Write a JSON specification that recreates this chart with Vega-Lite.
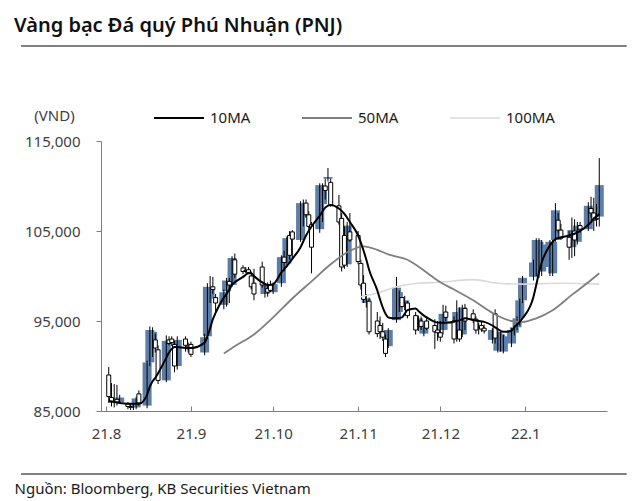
{
"$schema": "https://vega.github.io/schema/vega-lite/v6.json",
"width": 506, "height": 270,
"autosize": {"type": "none"},
"padding": {"left": 101, "top": 141, "right": 33, "bottom": 90},
"background": "white",
"title": {"text": "Vàng bạc Đá quý Phú Nhuận (PNJ)", "anchor": "start", "frame": "group", "dx": -87, "offset": 9, "fontSize": 20, "fontWeight": 600, "font": "Noto Sans", "color": "#111111"},
"datasets": {
"candles": [
{"date":"2021-08-02","open":89000,"high":89900,"low":85900,"close":86600},
{"date":"2021-08-03","open":86500,"high":88100,"low":85500,"close":86000},
{"date":"2021-08-04","open":86000,"high":88000,"low":85400,"close":86200},
{"date":"2021-08-05","open":86300,"high":87900,"low":85600,"close":86000},
{"date":"2021-08-06","open":86000,"high":86800,"low":85800,"close":86500},
{"date":"2021-08-09","open":85800,"high":86000,"low":85200,"close":85500},
{"date":"2021-08-10","open":85500,"high":85800,"low":85100,"close":85400},
{"date":"2021-08-11","open":85400,"high":85800,"low":85100,"close":85500},
{"date":"2021-08-12","open":85400,"high":86600,"low":85200,"close":86400},
{"date":"2021-08-13","open":86900,"high":87300,"low":85600,"close":85900},
{"date":"2021-08-16","open":85600,"high":90600,"low":85300,"close":90400},
{"date":"2021-08-17","open":90400,"high":94400,"low":90000,"close":94000},
{"date":"2021-08-18","open":92000,"high":94300,"low":91000,"close":93800},
{"date":"2021-08-19","open":92900,"high":93600,"low":91500,"close":92000},
{"date":"2021-08-20","open":91800,"high":92300,"low":88000,"close":88400},
{"date":"2021-08-23","open":88400,"high":93400,"low":88200,"close":92800},
{"date":"2021-08-24","open":92900,"high":93300,"low":92300,"close":92500},
{"date":"2021-08-25","open":93000,"high":93300,"low":92200,"close":92600},
{"date":"2021-08-26","open":92400,"high":92800,"low":89300,"close":90000},
{"date":"2021-08-27","open":90000,"high":93300,"low":89600,"close":92900},
{"date":"2021-08-30","open":93000,"high":93300,"low":91600,"close":92300},
{"date":"2021-08-31","open":92200,"high":92600,"low":91500,"close":91900},
{"date":"2021-09-01","open":92400,"high":92700,"low":91000,"close":91300},
{"date":"2021-09-06","open":91500,"high":93600,"low":91200,"close":93200},
{"date":"2021-09-07","open":93300,"high":99200,"low":93000,"close":98800},
{"date":"2021-09-08","open":97500,"high":100000,"low":97000,"close":98700},
{"date":"2021-09-09","open":98800,"high":99900,"low":98000,"close":98500},
{"date":"2021-09-10","open":97600,"high":98000,"low":96000,"close":97000},
{"date":"2021-09-13","open":96800,"high":98500,"low":96300,"close":98200},
{"date":"2021-09-14","open":98300,"high":99800,"low":96600,"close":99500},
{"date":"2021-09-15","open":99400,"high":99800,"low":97000,"close":99000},
{"date":"2021-09-16","open":99000,"high":102200,"low":98800,"close":102000},
{"date":"2021-09-17","open":101800,"high":102500,"low":99800,"close":100200},
{"date":"2021-09-20","open":100900,"high":101200,"low":100200,"close":100500},
{"date":"2021-09-21","open":100600,"high":101000,"low":100300,"close":100500},
{"date":"2021-09-22","open":100700,"high":101000,"low":100300,"close":100400},
{"date":"2021-09-23","open":100000,"high":100500,"low":98500,"close":98800},
{"date":"2021-09-24","open":99200,"high":100800,"low":97300,"close":98000},
{"date":"2021-09-27","open":101000,"high":101600,"low":98700,"close":99000},
{"date":"2021-09-28","open":98000,"high":99200,"low":97600,"close":99000},
{"date":"2021-09-29","open":98600,"high":99300,"low":97700,"close":98200},
{"date":"2021-09-30","open":99000,"high":99500,"low":98200,"close":98400},
{"date":"2021-10-01","open":98200,"high":99300,"low":98000,"close":99100},
{"date":"2021-10-04","open":99200,"high":102300,"low":98800,"close":102100},
{"date":"2021-10-05","open":102100,"high":102800,"low":100500,"close":101500},
{"date":"2021-10-06","open":101400,"high":104400,"low":101000,"close":104200},
{"date":"2021-10-07","open":104500,"high":105000,"low":101800,"close":102300},
{"date":"2021-10-08","open":104900,"high":105100,"low":101800,"close":104100},
{"date":"2021-10-11","open":104000,"high":108300,"low":103800,"close":108100},
{"date":"2021-10-12","open":106500,"high":108500,"low":105500,"close":108000},
{"date":"2021-10-13","open":108100,"high":108500,"low":106500,"close":106800},
{"date":"2021-10-14","open":106800,"high":107200,"low":105000,"close":105500},
{"date":"2021-10-15","open":105700,"high":106000,"low":100300,"close":103200},
{"date":"2021-10-18","open":105200,"high":110300,"low":104800,"close":110100},
{"date":"2021-10-19","open":108000,"high":110300,"low":106000,"close":110000},
{"date":"2021-10-20","open":110000,"high":110800,"low":108500,"close":109500},
{"date":"2021-10-21","open":110800,"high":112000,"low":110500,"close":111000},
{"date":"2021-10-22","open":110400,"high":110800,"low":107700,"close":107900},
{"date":"2021-10-25","open":107800,"high":109000,"low":105700,"close":106000},
{"date":"2021-10-26","open":106400,"high":107000,"low":100500,"close":101000},
{"date":"2021-10-27","open":104500,"high":105500,"low":100800,"close":101200},
{"date":"2021-10-28","open":101300,"high":106000,"low":101000,"close":105600},
{"date":"2021-10-29","open":104900,"high":107000,"low":103800,"close":104000},
{"date":"2021-11-01","open":104500,"high":105000,"low":101300,"close":101600},
{"date":"2021-11-02","open":101400,"high":101800,"low":98500,"close":99000},
{"date":"2021-11-03","open":99200,"high":100100,"low":97000,"close":97400},
{"date":"2021-11-04","open":97000,"high":98000,"low":96500,"close":97500},
{"date":"2021-11-05","open":97200,"high":97600,"low":93500,"close":93800},
{"date":"2021-11-08","open":95000,"high":96000,"low":93200,"close":93600},
{"date":"2021-11-09","open":94500,"high":95500,"low":93000,"close":93800},
{"date":"2021-11-10","open":93800,"high":94800,"low":92800,"close":93200},
{"date":"2021-11-11","open":93000,"high":93500,"low":91000,"close":91400},
{"date":"2021-11-12","open":92200,"high":94200,"low":92000,"close":94000},
{"date":"2021-11-15","open":95100,"high":99900,"low":94800,"close":98700},
{"date":"2021-11-16","open":96800,"high":98400,"low":96000,"close":97500},
{"date":"2021-11-17","open":97600,"high":98200,"low":96000,"close":96600},
{"date":"2021-11-18","open":96800,"high":97800,"low":96200,"close":97300},
{"date":"2021-11-19","open":97000,"high":97200,"low":95300,"close":95600},
{"date":"2021-11-22","open":95600,"high":96000,"low":93500,"close":94000},
{"date":"2021-11-23","open":94200,"high":95600,"low":93900,"close":95300},
{"date":"2021-11-24","open":95000,"high":95500,"low":94000,"close":94400},
{"date":"2021-11-25","open":93600,"high":94600,"low":93300,"close":94300},
{"date":"2021-11-26","open":95000,"high":95500,"low":94000,"close":94200},
{"date":"2021-11-29","open":94500,"high":95200,"low":91900,"close":93800},
{"date":"2021-11-30","open":94000,"high":95000,"low":92800,"close":93700},
{"date":"2021-12-01","open":93700,"high":95000,"low":92700,"close":93200},
{"date":"2021-12-02","open":94000,"high":96800,"low":93500,"close":95800},
{"date":"2021-12-03","open":96000,"high":96700,"low":95000,"close":95400},
{"date":"2021-12-06","open":95000,"high":95500,"low":92500,"close":93000},
{"date":"2021-12-07","open":93200,"high":97300,"low":92700,"close":96000},
{"date":"2021-12-08","open":94000,"high":96500,"low":92700,"close":93000},
{"date":"2021-12-09","open":93500,"high":96800,"low":93200,"close":96500},
{"date":"2021-12-10","open":96400,"high":96900,"low":94000,"close":95000},
{"date":"2021-12-13","open":95800,"high":96300,"low":94800,"close":95200},
{"date":"2021-12-14","open":95200,"high":95500,"low":93600,"close":94000},
{"date":"2021-12-15","open":94200,"high":94800,"low":93500,"close":94400},
{"date":"2021-12-16","open":94500,"high":95000,"low":93800,"close":94100},
{"date":"2021-12-17","open":94200,"high":94600,"low":93600,"close":93900},
{"date":"2021-12-20","open":92900,"high":94200,"low":92500,"close":94000},
{"date":"2021-12-21","open":95800,"high":96300,"low":92500,"close":93100},
{"date":"2021-12-22","open":91700,"high":94000,"low":91500,"close":93800},
{"date":"2021-12-23","open":92000,"high":93800,"low":91600,"close":93500},
{"date":"2021-12-24","open":91600,"high":93500,"low":91400,"close":93300},
{"date":"2021-12-27","open":92500,"high":94200,"low":92100,"close":94000},
{"date":"2021-12-28","open":93700,"high":94500,"low":93400,"close":94300},
{"date":"2021-12-29","open":94300,"high":95500,"low":94000,"close":95300},
{"date":"2021-12-30","open":95300,"high":97500,"low":94500,"close":97300},
{"date":"2021-12-31","open":97300,"high":100000,"low":97000,"close":99800},
{"date":"2022-01-04","open":99900,"high":101800,"low":99500,"close":101500},
{"date":"2022-01-05","open":101000,"high":104200,"low":100000,"close":104000},
{"date":"2022-01-06","open":103000,"high":104200,"low":99800,"close":103800},
{"date":"2022-01-07","open":100500,"high":104000,"low":100000,"close":103500},
{"date":"2022-01-10","open":101000,"high":104000,"low":100000,"close":103800},
{"date":"2022-01-11","open":100300,"high":104000,"low":100000,"close":103800},
{"date":"2022-01-12","open":104000,"high":108100,"low":103800,"close":107300},
{"date":"2022-01-13","open":106200,"high":107000,"low":104800,"close":105100},
{"date":"2022-01-14","open":105100,"high":105800,"low":104000,"close":104200},
{"date":"2022-01-17","open":104300,"high":105000,"low":101800,"close":103200},
{"date":"2022-01-18","open":103200,"high":106500,"low":102000,"close":105100},
{"date":"2022-01-19","open":105000,"high":106300,"low":102200,"close":104000},
{"date":"2022-01-20","open":103800,"high":106000,"low":103500,"close":105600},
{"date":"2022-01-21","open":105600,"high":106000,"low":104800,"close":105200},
{"date":"2022-01-24","open":105200,"high":108200,"low":105000,"close":107800},
{"date":"2022-01-25","open":107500,"high":108800,"low":106500,"close":107000},
{"date":"2022-01-26","open":107000,"high":108700,"low":105000,"close":106200},
{"date":"2022-01-27","open":106400,"high":108000,"low":105500,"close":106300},
{"date":"2022-01-28","open":106600,"high":113100,"low":105500,"close":110100}
],
"ma": [
{"date":"2021-11-02","series":"100MA","value":97700},
{"date":"2021-11-08","series":"100MA","value":98100},
{"date":"2021-11-15","series":"100MA","value":98800},
{"date":"2021-11-23","series":"100MA","value":99200},
{"date":"2021-12-01","series":"100MA","value":99300},
{"date":"2021-12-13","series":"100MA","value":99600},
{"date":"2021-12-22","series":"100MA","value":99200},
{"date":"2021-12-31","series":"100MA","value":99100},
{"date":"2022-01-14","series":"100MA","value":99200},
{"date":"2022-01-28","series":"100MA","value":99100},
{"date":"2021-09-13","series":"50MA","value":91400},
{"date":"2021-09-17","series":"50MA","value":92200},
{"date":"2021-09-24","series":"50MA","value":93500},
{"date":"2021-10-01","series":"50MA","value":95400},
{"date":"2021-10-08","series":"50MA","value":97500},
{"date":"2021-10-15","series":"50MA","value":99400},
{"date":"2021-10-22","series":"50MA","value":101300},
{"date":"2021-10-29","series":"50MA","value":102800},
{"date":"2021-11-03","series":"50MA","value":103300},
{"date":"2021-11-08","series":"50MA","value":102900},
{"date":"2021-11-12","series":"50MA","value":102400},
{"date":"2021-11-19","series":"50MA","value":101800},
{"date":"2021-11-26","series":"50MA","value":100400},
{"date":"2021-12-01","series":"50MA","value":99300},
{"date":"2021-12-06","series":"50MA","value":98500},
{"date":"2021-12-13","series":"50MA","value":97300},
{"date":"2021-12-20","series":"50MA","value":95900},
{"date":"2021-12-27","series":"50MA","value":95000},
{"date":"2021-12-31","series":"50MA","value":94900},
{"date":"2022-01-05","series":"50MA","value":95300},
{"date":"2022-01-11","series":"50MA","value":96200},
{"date":"2022-01-18","series":"50MA","value":97900},
{"date":"2022-01-24","series":"50MA","value":99300},
{"date":"2022-01-28","series":"50MA","value":100300},
{"date":"2021-08-02","series":"10MA","value":86100},
{"date":"2021-08-06","series":"10MA","value":85900},
{"date":"2021-08-11","series":"10MA","value":85800},
{"date":"2021-08-13","series":"10MA","value":85800},
{"date":"2021-08-16","series":"10MA","value":86800},
{"date":"2021-08-17","series":"10MA","value":87700},
{"date":"2021-08-18","series":"10MA","value":88300},
{"date":"2021-08-19","series":"10MA","value":88700},
{"date":"2021-08-20","series":"10MA","value":89200},
{"date":"2021-08-23","series":"10MA","value":90900},
{"date":"2021-08-24","series":"10MA","value":91500},
{"date":"2021-08-25","series":"10MA","value":91900},
{"date":"2021-08-26","series":"10MA","value":92100},
{"date":"2021-08-27","series":"10MA","value":92100},
{"date":"2021-08-30","series":"10MA","value":92000},
{"date":"2021-09-01","series":"10MA","value":92000},
{"date":"2021-09-06","series":"10MA","value":92600},
{"date":"2021-09-07","series":"10MA","value":93300},
{"date":"2021-09-08","series":"10MA","value":94200},
{"date":"2021-09-09","series":"10MA","value":95200},
{"date":"2021-09-10","series":"10MA","value":95900},
{"date":"2021-09-13","series":"10MA","value":97600},
{"date":"2021-09-14","series":"10MA","value":98000},
{"date":"2021-09-15","series":"10MA","value":98500},
{"date":"2021-09-16","series":"10MA","value":99000},
{"date":"2021-09-17","series":"10MA","value":99300},
{"date":"2021-09-20","series":"10MA","value":99900},
{"date":"2021-09-22","series":"10MA","value":100300},
{"date":"2021-09-23","series":"10MA","value":100300},
{"date":"2021-09-24","series":"10MA","value":100000},
{"date":"2021-09-27","series":"10MA","value":99300},
{"date":"2021-09-29","series":"10MA","value":99000},
{"date":"2021-10-01","series":"10MA","value":99100},
{"date":"2021-10-04","series":"10MA","value":100400},
{"date":"2021-10-06","series":"10MA","value":101100},
{"date":"2021-10-08","series":"10MA","value":101900},
{"date":"2021-10-11","series":"10MA","value":103200},
{"date":"2021-10-13","series":"10MA","value":104500},
{"date":"2021-10-15","series":"10MA","value":105500},
{"date":"2021-10-18","series":"10MA","value":106700},
{"date":"2021-10-20","series":"10MA","value":107600},
{"date":"2021-10-22","series":"10MA","value":107900},
{"date":"2021-10-25","series":"10MA","value":107500},
{"date":"2021-10-27","series":"10MA","value":106900},
{"date":"2021-10-29","series":"10MA","value":106000},
{"date":"2021-11-01","series":"10MA","value":104500},
{"date":"2021-11-02","series":"10MA","value":103700},
{"date":"2021-11-03","series":"10MA","value":102800},
{"date":"2021-11-04","series":"10MA","value":101800},
{"date":"2021-11-05","series":"10MA","value":100700},
{"date":"2021-11-08","series":"10MA","value":98400},
{"date":"2021-11-09","series":"10MA","value":97400},
{"date":"2021-11-10","series":"10MA","value":96500},
{"date":"2021-11-11","series":"10MA","value":95800},
{"date":"2021-11-12","series":"10MA","value":95400},
{"date":"2021-11-15","series":"10MA","value":95300},
{"date":"2021-11-17","series":"10MA","value":95400},
{"date":"2021-11-18","series":"10MA","value":95800},
{"date":"2021-11-19","series":"10MA","value":96200},
{"date":"2021-11-22","series":"10MA","value":96400},
{"date":"2021-11-23","series":"10MA","value":96100},
{"date":"2021-11-25","series":"10MA","value":95600},
{"date":"2021-11-26","series":"10MA","value":95400},
{"date":"2021-11-29","series":"10MA","value":94900},
{"date":"2021-12-01","series":"10MA","value":94800},
{"date":"2021-12-03","series":"10MA","value":94800},
{"date":"2021-12-07","series":"10MA","value":95000},
{"date":"2021-12-09","series":"10MA","value":95200},
{"date":"2021-12-10","series":"10MA","value":95300},
{"date":"2021-12-13","series":"10MA","value":95100},
{"date":"2021-12-15","series":"10MA","value":95000},
{"date":"2021-12-17","series":"10MA","value":94900},
{"date":"2021-12-20","series":"10MA","value":94500},
{"date":"2021-12-22","series":"10MA","value":94100},
{"date":"2021-12-24","series":"10MA","value":93800},
{"date":"2021-12-27","series":"10MA","value":93900},
{"date":"2021-12-28","series":"10MA","value":94300},
{"date":"2021-12-29","series":"10MA","value":94600},
{"date":"2021-12-30","series":"10MA","value":94900},
{"date":"2021-12-31","series":"10MA","value":95300},
{"date":"2022-01-04","series":"10MA","value":97700},
{"date":"2022-01-05","series":"10MA","value":99000},
{"date":"2022-01-06","series":"10MA","value":100400},
{"date":"2022-01-07","series":"10MA","value":101500},
{"date":"2022-01-10","series":"10MA","value":103400},
{"date":"2022-01-11","series":"10MA","value":103800},
{"date":"2022-01-12","series":"10MA","value":104100},
{"date":"2022-01-14","series":"10MA","value":104300},
{"date":"2022-01-17","series":"10MA","value":104500},
{"date":"2022-01-19","series":"10MA","value":104700},
{"date":"2022-01-21","series":"10MA","value":105000},
{"date":"2022-01-24","series":"10MA","value":105700},
{"date":"2022-01-25","series":"10MA","value":106000},
{"date":"2022-01-26","series":"10MA","value":106400},
{"date":"2022-01-27","series":"10MA","value":106600},
{"date":"2022-01-28","series":"10MA","value":106900}
]
},
"layer": [
{"data": {"values": [{}]}, "mark": {"type": "rule", "color": "#808080", "strokeWidth": 2},
 "encoding": {
  "x": {"datum": {"year": 2021, "month": 7, "date": 1}, "type": "temporal", "title": "Nguồn: Bloomberg, KB Securities Vietnam",
   "scale": {"type": "utc", "domain": [{"year": 2021, "month": 8, "date": 1, "utc": true}, {"year": 2022, "month": 1, "date": 29, "utc": true}]},
   "axis": {"format": "%y.%-m", "tickCount": {"interval": "month", "step": 1}}},
  "x2": {"datum": {"year": 2022, "month": 2, "date": 7}},
  "y": {"datum": 125556, "type": "quantitative", "title": "(VND)", "scale": {"domain": [85000, 115000], "nice": false, "zero": false}, "axis": {"values": [85000, 95000, 105000, 115000], "format": ",d"}}}},
{"data": {"values": [{}]}, "mark": {"type": "rule", "color": "#808080", "strokeWidth": 2},
 "encoding": {
  "x": {"datum": {"year": 2021, "month": 7, "date": 1}, "type": "temporal", "title": "Nguồn: Bloomberg, KB Securities Vietnam"},
  "x2": {"datum": {"year": 2022, "month": 2, "date": 7}},
  "y": {"datum": 78000, "type": "quantitative", "title": "(VND)"}}},
{"data": {"name": "candles"}, "transform": [{"filter": "datum.close > datum.open"}],
 "mark": {"type": "bar", "width": 9, "color": "#5d7ea8"},
 "encoding": {
  "x": {"field": "date", "type": "temporal", "title": "Nguồn: Bloomberg, KB Securities Vietnam"},
  "y": {"field": "open", "type": "quantitative", "title": "(VND)"},
  "y2": {"field": "close"}}},
{"data": {"name": "candles"},
 "mark": {"type": "rule", "color": "#000000", "strokeWidth": 1},
 "encoding": {
  "x": {"field": "date", "type": "temporal", "title": "Nguồn: Bloomberg, KB Securities Vietnam"},
  "y": {"field": "low", "type": "quantitative", "title": "(VND)"},
  "y2": {"field": "high"}}},
{"data": {"name": "candles"}, "transform": [{"filter": "datum.close <= datum.open"}],
 "mark": {"type": "bar", "width": 4, "fill": "#ffffff", "stroke": "#000000", "strokeWidth": 1},
 "encoding": {
  "x": {"field": "date", "type": "temporal", "title": "Nguồn: Bloomberg, KB Securities Vietnam"},
  "y": {"field": "open", "type": "quantitative", "title": "(VND)"},
  "y2": {"field": "close"}}},
{"data": {"name": "ma"},
 "mark": {"type": "line", "interpolate": "monotone"},
 "encoding": {
  "x": {"field": "date", "type": "temporal", "title": "Nguồn: Bloomberg, KB Securities Vietnam"},
  "y": {"field": "value", "type": "quantitative", "title": "(VND)"},
  "color": {"field": "series", "type": "nominal", "sort": ["10MA", "50MA", "100MA"],
   "scale": {"domain": ["10MA", "50MA", "100MA"], "range": ["#000000", "#7f7f7f", "#d9d9d9"]},
   "legend": {"orient": "none", "legendX": 52, "legendY": -49, "direction": "horizontal", "columns": 3, "title": null, "symbolType": "stroke", "symbolSize": 2500, "symbolStrokeWidth": 2.5, "labelFontSize": 15, "labelFont": "Noto Sans", "labelColor": "#1a1a1a", "columnPadding": 47, "labelOffset": 5}},
  "strokeWidth": {"field": "series", "type": "nominal", "scale": {"domain": ["10MA", "50MA", "100MA"], "range": [2, 1.6, 2.8]}, "legend": null},
  "order": {"field": "date", "type": "temporal"}}}
],
"config": {
 "font": "Noto Sans",
 "view": {"stroke": null},
 "axis": {"labelFont": "Noto Sans", "labelFontSize": 15, "labelColor": "#404040", "domainColor": "#7f7f7f", "tickColor": "#7f7f7f", "domainWidth": 1, "tickWidth": 1, "grid": false, "titleFont": "Noto Sans", "titleFontSize": 15, "titleFontWeight": "normal"},
 "axisX": {"tickSize": -5, "labelPadding": 20, "titleX": -87, "titleY": 77, "titleAlign": "left", "titleAnchor": "start", "titleBaseline": "middle", "titleColor": "#1a1a1a", "labelFlush": false, "labelOverlap": false},
 "axisY": {"tickSize": 5, "labelPadding": 16, "titleAngle": 0, "titleX": -47, "titleY": -26, "titleAlign": "center", "titleBaseline": "middle", "titleColor": "#404040"}
}
}
